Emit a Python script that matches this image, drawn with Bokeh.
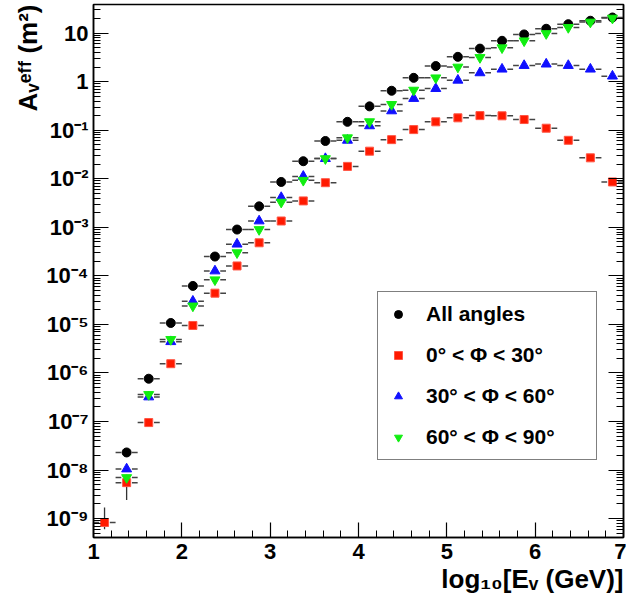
from bokeh.plotting import figure
from bokeh.models import Range1d, LogAxis, FixedTicker, Legend, LegendItem, Title
from bokeh.embed import file_html
from bokeh.resources import INLINE

# ---------------- data ----------------
bin_centers = [1.125, 1.375, 1.625, 1.875, 2.125, 2.375, 2.625, 2.875,
               3.125, 3.375, 3.625, 3.875, 4.125, 4.375, 4.625, 4.875,
               5.125, 5.375, 5.625, 5.875, 6.125, 6.375, 6.625, 6.875]
bin_half_width = 0.125

all_angles = [float("nan"), 2.3e-8, 7.6e-7, 1.07e-5, 6.2e-5, 2.5e-4, 9.0e-4, 2.7e-3,
              8.6e-3, 2.3e-2, 6.0e-2, 0.149, 0.31, 0.65, 1.2, 2.1,
              3.25, 4.8, 6.95, 9.4, 12.3, 15.3, 18.0, 21.0]
phi_0_30 = [8.3e-10, 5.5e-9, 9.5e-8, 1.55e-6, 9.5e-6, 4.4e-5, 1.6e-4, 4.8e-4,
            1.35e-3, 3.5e-3, 8.3e-3, 0.018, 0.037, 0.064, 0.103, 0.149,
            0.18, 0.20, 0.198, 0.166, 0.11, 0.062, 0.027, 0.0086]
phi_30_60 = [float("nan"), 1.05e-8, 3.2e-7, 4.4e-6, 3.0e-5, 1.26e-4, 4.5e-4, 1.35e-3,
             4.1e-3, 1.12e-2, 2.6e-2, 0.062, 0.123, 0.25, 0.45, 0.72,
             1.07, 1.52, 1.81, 2.15, 2.3, 2.15, 1.81, 1.3]
phi_60_90 = [float("nan"), 7.0e-9, 3.6e-7, 4.9e-6, 2.4e-5, 8.3e-5, 3.0e-4, 9.0e-4,
             3.3e-3, 9.3e-3, 2.6e-2, 0.070, 0.15, 0.34, 0.67, 1.2,
             2.0, 3.15, 5.0, 6.95, 9.8, 13.1, 16.9, 20.4]

# vertical error bars visible on the lowest red points
red_err_x = [1.125, 1.375]
red_err_lo = [6.0e-10, 2.4e-9]
red_err_hi = [1.7e-9, 8.0e-9]

series_labels = ["All angles", "0° < Φ < 30°", "30° < Φ < 60°", "60° < Φ < 90°"]
x_title = "log₁₀[Eᵥ (GeV)]"
y_title = "Aᵥᵉᶠᶠ (m²)"

x_ticks = [1, 2, 3, 4, 5, 6, 7]
x_minor = [1 + 0.2 * i for i in range(31)]
y_exponents = list(range(-9, 2))
sup = str.maketrans("-0123456789", "⁻⁰¹²³⁴⁵⁶⁷⁸⁹")
y_tick_labels = ["1" if e == 0 else "10" if e == 1 else "10" + str(e).translate(sup)
                 for e in y_exponents]

# ---------------- figure ----------------
FONT = "Liberation Sans"
W, H = 626, 604
ML, MR, MT, MB = 93, 3, 4, 67
p = figure(width=W, height=H, x_range=Range1d(1, 7),
           y_range=Range1d(10 ** -9.39, 10 ** 1.59), y_axis_type="log",
           output_backend="svg", toolbar_location=None,
           min_border_left=ML, min_border_right=MR, min_border_top=MT, min_border_bottom=MB)
p.background_fill_color = "white"
p.border_fill_color = "white"
p.grid.visible = False
p.outline_line_color = "black"
p.outline_line_width = 1.5

y_major = [10.0 ** e for e in y_exponents]
y_minor = [m * 10.0 ** e for e in range(-10, 2) for m in range(2, 10)]
y_ticker = FixedTicker(ticks=y_major, minor_ticks=y_minor)

xa = p.xaxis[0]
xa.ticker = FixedTicker(ticks=x_ticks, minor_ticks=x_minor)
ya = p.yaxis[0]
ya.ticker = y_ticker
ya.major_label_overrides = {v: t for v, t in zip(y_major, y_tick_labels)}

for ax in (xa, ya):
    ax.axis_line_color = "black"
    ax.axis_line_width = 1.5
    ax.major_tick_line_width = 1.2
    ax.minor_tick_line_width = 1.0
    ax.major_tick_in = 15
    ax.major_tick_out = 0
    ax.minor_tick_in = 7
    ax.minor_tick_out = 0
    ax.major_label_text_font = FONT
    ax.major_label_text_font_style = "bold"
    ax.major_label_text_font_size = "22px"
    ax.major_label_text_color = "black"
xa.major_label_standoff = 6
ya.major_label_standoff = 5

ra = LogAxis(ticker=y_ticker, major_tick_in=15, major_tick_out=0, minor_tick_in=7,
             minor_tick_out=0, major_label_text_font_size="8px", major_label_text_alpha=0,
             major_label_standoff=0, axis_line_color="black", axis_line_width=1.5,
             major_tick_line_width=1.2, minor_tick_line_width=1.0)
ra.major_label_overrides = {v: " " for v in y_major}
p.add_layout(ra, "right")

# axis titles as right/top-aligned titles in the side panels
p.add_layout(Title(text=x_title, align="right", text_font=FONT, text_font_style="bold",
                   text_font_size="26px", text_color="black", standoff=0, offset=0), "below")
p.add_layout(Title(text=y_title, align="right", text_font=FONT, text_font_style="bold",
                   text_font_size="26px", text_color="black", standoff=2, offset=0), "left")

# ---------------- horizontal error bars ----------------
gap = 0.06
series = [all_angles, phi_0_30, phi_30_60, phi_60_90]
for vals in series:
    p.segment(x0=[c - bin_half_width for c in bin_centers], y0=vals,
              x1=[c - gap for c in bin_centers], y1=vals,
              line_color="#444444", line_width=1.5)
    p.segment(x0=[c + gap for c in bin_centers], y0=vals,
              x1=[c + bin_half_width for c in bin_centers], y1=vals,
              line_color="#444444", line_width=1.5)
p.segment(x0=red_err_x, y0=red_err_lo, x1=red_err_x, y1=red_err_hi,
          line_color="#333333", line_width=1.3)

# ---------------- markers ----------------
r_all = p.scatter(bin_centers, all_angles, marker="circle", size=9,
                  fill_color="black", line_color="black")
r_red = p.scatter(bin_centers, phi_0_30, marker="square", size=8,
                  fill_color="#ff1a00", line_color="#ff5544", line_width=1)
r_blue = p.scatter(bin_centers, phi_30_60, marker="triangle", size=10,
                   fill_color="#1010ff", line_color="#1010ff")
r_green = p.scatter(bin_centers, phi_60_90, marker="inverted_triangle", size=10,
                    fill_color="#11ee11", line_color="#11ee11")

legend = Legend(items=[LegendItem(label=lab, renderers=[r])
                       for lab, r in zip(series_labels, [r_all, r_red, r_blue, r_green])],
                location=(284, 77))
legend.label_text_font = FONT
legend.label_text_font_style = "bold"
legend.label_text_font_size = "21px"
legend.label_text_color = "black"
legend.label_height = 20
legend.label_width = 160
legend.glyph_height = 20
legend.glyph_width = 20
legend.label_standoff = 18
legend.spacing = 17
legend.padding = 10
legend.margin = 0
legend.border_line_color = "black"
legend.border_line_width = 1
legend.background_fill_alpha = 1.0
p.add_layout(legend)

open("out.html", "w").write(file_html(p, INLINE))
